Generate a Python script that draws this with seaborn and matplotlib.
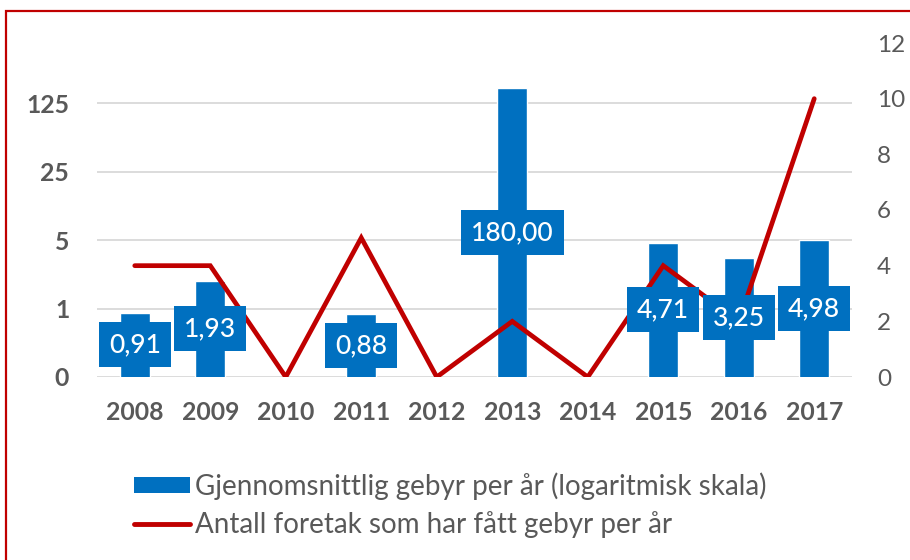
import numpy as np
import pandas as pd
import matplotlib
matplotlib.use("Agg")
import matplotlib.pyplot as plt
import matplotlib.transforms as mtransforms
from matplotlib.patches import Patch, Rectangle
from matplotlib.lines import Line2D
import seaborn as sns

years = ["2008", "2009", "2010", "2011", "2012", "2013", "2014", "2015", "2016", "2017"]
avg_fee = [0.91, 1.93, np.nan, 0.88, np.nan, 180.00, np.nan, 4.71, 3.25, 4.98]
n_firms = [4, 4, 0, 5, 0, 2, 0, 4, 2, 10]
left_ticks = [0.2, 1, 5, 25, 125]
left_ticklabels = ["0", "1", "5", "25", "125"]
right_ticks = [0, 2, 4, 6, 8, 10, 12]
bar_label_name = "Gjennomsnittlig gebyr per år (logaritmisk skala)"
line_label_name = "Antall foretak som har fått gebyr per år"

BLUE = "#0070C0"
RED = "#C00000"
GREY = "#595959"

df = pd.DataFrame({"year": years, "fee": avg_fee, "firms": n_firms})

sns.set_theme(style="white")
plt.rcParams["font.family"] = ["Lato", "DejaVu Sans"]

fig = plt.figure(figsize=(9.1, 5.6), dpi=100)
ax = fig.add_axes([97 / 910, 1 - 377 / 560, (852 - 97) / 910, (377 - 43) / 560])

ax.set_yscale("log", base=5)
sns.barplot(data=df.dropna(), x="year", y="fee", order=years, color=BLUE,
            saturation=1, width=0.4, errorbar=None, ax=ax, zorder=2)
ax.set_ylim(0.2, 515)
ax.set_xlim(-0.5, len(years) - 0.5)
ax.set_yticks(left_ticks)
ax.set_yticklabels(left_ticklabels)
ax.yaxis.set_minor_locator(matplotlib.ticker.NullLocator())
ax.grid(axis="y", color="#D9D9D9", lw=1.3, zorder=0)
ax.set_axisbelow(True)
ax.set_xlabel("")
ax.set_ylabel("")
for s in ax.spines.values():
    s.set_visible(False)
ax.tick_params(axis="y", length=0, pad=20, labelsize=17.8, labelcolor=GREY)
ax.tick_params(axis="x", length=0, pad=17, labelsize=17.8, labelcolor=GREY)
for t in ax.get_yticklabels() + ax.get_xticklabels():
    t.set_fontweight("bold")

ax2 = ax.twinx()
sns.lineplot(data=df, x="year", y="firms", color=RED, lw=3.4, ax=ax2,
             sort=False, solid_capstyle="round", solid_joinstyle="miter")
ax2.set_ylim(0, 12)
ax2.set_yticks(right_ticks)
ax2.set_ylabel("")
ax2.set_xlabel("")
for s in ax2.spines.values():
    s.set_visible(False)
ax2.tick_params(axis="y", length=0, pad=18, labelsize=17.5, labelcolor=GREY)
ax2.set_xlim(-0.5, len(years) - 0.5)

# data labels on top of the line
for bar in ax.patches:
    h = bar.get_height()
    if not np.isfinite(h) or h <= 0:
        continue
    txt = f"{h:.2f}".replace(".", ",")
    ax2.annotate(txt, xy=(0.5, 0.5),
                 xycoords=lambda r, b=bar: mtransforms.Bbox.intersection(
                     b.get_window_extent(r), b.get_clip_box()) or mtransforms.Bbox.null(),
                 ha="center", va="center", color="white", fontsize=19,
                 fontweight="medium",
                 bbox=dict(boxstyle="square,pad=0.38", fc=BLUE, ec="none"), zorder=5)

handles = [Patch(facecolor=BLUE, edgecolor="none"), Line2D([0], [0], color=RED, lw=3.5)]
fig.legend(handles, [bar_label_name, line_label_name], loc="upper left",
           bbox_to_anchor=(123 / 910, 1 - 461 / 560), frameon=False,
           fontsize=20, labelcolor=GREY, handlelength=2.0, handleheight=0.55,
           handletextpad=0.2, labelspacing=0.42, borderaxespad=0)

fig.patches.append(Rectangle((6 / 910, -0.02), 1.1, 1 - 11 / 560 + 0.02,
                             transform=fig.transFigure, fill=False,
                             ec=RED, lw=1.6, zorder=10))

fig.savefig("out.png", dpi=100)
